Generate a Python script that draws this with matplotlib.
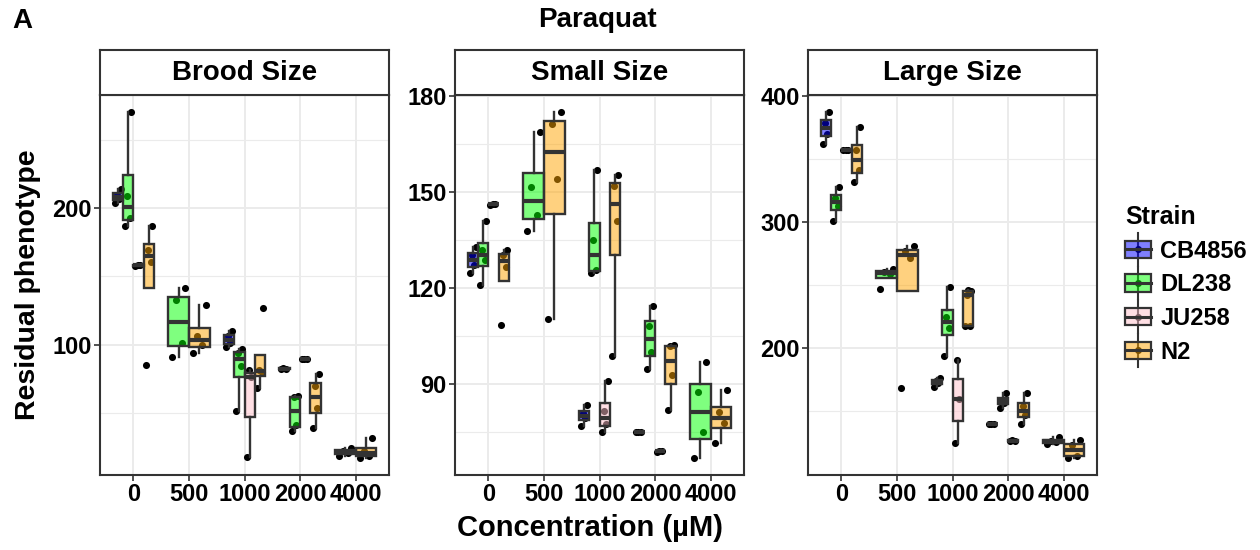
import matplotlib.pyplot as plt
from matplotlib.colors import to_rgba
from matplotlib.legend_handler import HandlerBase
from matplotlib.patches import Patch, Rectangle
from matplotlib.lines import Line2D

plt.rcParams['font.family'] = ['Liberation Sans', 'DejaVu Sans']
plt.rcParams['font.weight'] = 'bold'

concs = ['0', '500', '1000', '2000', '4000']
strains = ['CB4856', 'DL238', 'JU258', 'N2']
strain_colors = ['#0000ff', '#00ff00', '#ffc0cb', '#ffa500']

# replicate values per concentration (None = strain not measured there)
brood_cb4856 = [[203.4, 206.5, 209.5, 214], None, [98.3, 101.5, 106, 110.2], [82.3, 82.5, 82.7], [18.5, 21, 22, 24.6]]
brood_dl238 = [[187, 193, 209, 270], [91, 101.5, 132.4, 141.4], [51.6, 84.7, 93.9, 96.6], [36.7, 41.1, 61.5, 62.7], None]
brood_ju258 = [[157.5, 158, 158.3], None, [17.8, 76.6, 81.3], [89.2, 89.3, 89.4], None]
brood_n2 = [[85, 160.3, 169.1, 187.1], [94.2, 100, 106.3, 128.7], [68.6, 79.9, 81.3, 126.8], [39.2, 53.8, 69.6, 78.8], [17.3, 18.9, 22.1, 32]]

small_cb4856 = [[124.8, 127.2, 130.3, 132.7], None, [76.8, 79.2, 81.0, 83.4], [74.8, 74.9, 75.0], None]
small_dl238 = [[120.9, 128.8, 131.9, 141], [138, 142.7, 151.7, 168.8], [124.8, 125.6, 134.9, 156.8], [94.7, 99.9, 108, 114.4], [66.9, 74.9, 87.6, 97]]
small_ju258 = [[146.1, 146.2, 146.3], None, [74.9, 77.4, 81.5, 91], [68.8, 68.9, 69.0], None]
small_n2 = [[108.5, 126.6, 130.2, 131.8], [110.3, 154.2, 171.2, 175], [98.8, 141, 151.9, 155.5], [81.9, 92.7, 101.9, 102.3], [71.6, 77.7, 81.1, 88.1]]

large_cb4856 = [[361.9, 370.0, 378.5, 386.9], None, [169.3, 172.5, 174.5, 176.9], [140.0, 140.2, 140.4], [123.9, 125.8, 127.0, 130.0]]
large_dl238 = [[300.5, 312.9, 319.4, 327.8], [246.7, 258.8, 260.6, 263], [194.2, 216.3, 224.7, 248.6], [152.8, 157, 159, 165], None]
large_ju258 = [[356.8, 357, 357.2], None, [125.2, 160, 190.8], [126.9, 127, 127.1], None]
large_n2 = [[332, 340.9, 356.7, 375.3], [168.5, 271.5, 277, 281.4], [217.3, 218, 242.5, 245.4, 246.5], [140.2, 147.5, 154, 165], [113.4, 115.1, 123.3, 127.8]]

panels = [
    ('Brood Size', [brood_cb4856, brood_dl238, brood_ju258, brood_n2], [100, 200], [50, 150, 250]),
    ('Small Size', [small_cb4856, small_dl238, small_ju258, small_n2], [90, 120, 150, 180], [75, 105, 135, 165]),
    ('Large Size', [large_cb4856, large_dl238, large_ju258, large_n2], [200, 300, 400], [150, 250, 350]),
]
panel_left_px = [100, 455, 808]

W, H = 1260, 550
fig = plt.figure(figsize=(12.6, 5.5), dpi=100)
dark = '#333333'
jit = [-0.3, 0.15, -0.1, 0.3, 0.0]

for (title, groups, yt, ymt), lx in zip(panels, panel_left_px):
    ax = fig.add_axes([lx / W, (H - 475) / H, 289 / W, 380 / H])
    allv = [v for g in groups for vals in g if vals for v in vals]
    lo, hi = min(allv), max(allv)
    pad = 0.05 * (hi - lo)
    for ci in range(len(concs)):
        present = [si for si in range(4) if groups[si][ci] is not None]
        w = 0.75 / len(present)
        for k, si in enumerate(present):
            vals = groups[si][ci]
            pos = ci - 0.375 + w * (k + 0.5)
            xs = [pos + jit[i % len(jit)] * w for i in range(len(vals))]
            ax.scatter(xs, vals, s=26, color='black', zorder=1.5, linewidths=0)
            ax.boxplot([vals], positions=[pos], widths=w, patch_artist=True,
                       showfliers=False, showcaps=False,
                       boxprops=dict(facecolor=to_rgba(strain_colors[si], 0.5), edgecolor=dark, linewidth=1.7),
                       medianprops=dict(color=dark, linewidth=3),
                       whiskerprops=dict(color=dark, linewidth=1.7))
    ax.set_xlim(-0.6, len(concs) - 0.4)
    ax.set_ylim(lo - pad, hi + pad)
    ax.set_xticks(range(len(concs)))
    ax.set_xticklabels(concs)
    ax.set_yticks(yt)
    ax.set_yticks(ymt, minor=True)
    ax.grid(True, which='major', color='#ebebeb', linewidth=1.4)
    ax.grid(True, which='minor', axis='y', color='#ebebeb', linewidth=0.8)
    ax.set_axisbelow(True)
    ax.tick_params(which='major', direction='out', length=4, width=1.2, color=dark,
                   labelsize=17, labelcolor='black', pad=2)
    ax.tick_params(which='minor', length=0)
    for sp in ax.spines.values():
        sp.set_color(dark)
        sp.set_linewidth(1.5)

    st = fig.add_axes([lx / W, (H - 95) / H, 289 / W, 45 / H])
    st.set_xticks([])
    st.set_yticks([])
    for sp in st.spines.values():
        sp.set_color(dark)
        sp.set_linewidth(1.5)
    st.text(0.5, 0.5, title, ha='center', va='center', fontsize=20, fontweight='bold',
            transform=st.transAxes)


class BoxKey(HandlerBase):
    def create_artists(self, legend, orig_handle, xdescent, ydescent, width, height, fontsize, trans):
        fc = orig_handle.get_facecolor()
        x0, y0 = -xdescent, -ydescent
        cx, cy = x0 + width / 2, y0 + height / 2
        whisk = Line2D([cx, cx], [y0 - 0.45 * height, y0 + 1.45 * height], color=dark, lw=1.5, transform=trans)
        dot = Line2D([cx], [cy], marker='o', ms=4, color='black', lw=0, transform=trans)
        box = Rectangle((x0, y0), width, height, facecolor=fc, edgecolor=dark, lw=1.6, transform=trans)
        med = Line2D([x0, x0 + width], [cy, cy], color=dark, lw=2.2, transform=trans)
        return [whisk, dot, box, med]


handles = [Patch(facecolor=to_rgba(c, 0.5)) for c in strain_colors]
leg = fig.legend(handles, strains, handler_map={Patch: BoxKey()}, loc='upper left',
                 bbox_to_anchor=(1125 / W, 1 - 205 / H), frameon=False, title='Strain',
                 alignment='left', prop=dict(size=17, weight='bold'),
                 title_fontproperties=dict(size=18, weight='bold'),
                 handlelength=1.1, handleheight=0.75, handletextpad=0.4,
                 labelspacing=0.45, borderpad=0, borderaxespad=0)

fig.text(597 / W, 1 - 20 / H, 'Paraquat', ha='center', va='center', fontsize=20, fontweight='bold')
fig.text(22 / W, 1 - 21 / H, 'A', ha='center', va='center', fontsize=20, fontweight='bold')
fig.text(590 / W, 1 - 528 / H, 'Concentration (µM)', ha='center', va='center', fontsize=21, fontweight='bold')
fig.text(28 / W, 1 - 285 / H, 'Residual phenotype', ha='center', va='center', rotation=90,
         fontsize=20.5, fontweight='bold')

fig.savefig('out.png', dpi=100)
